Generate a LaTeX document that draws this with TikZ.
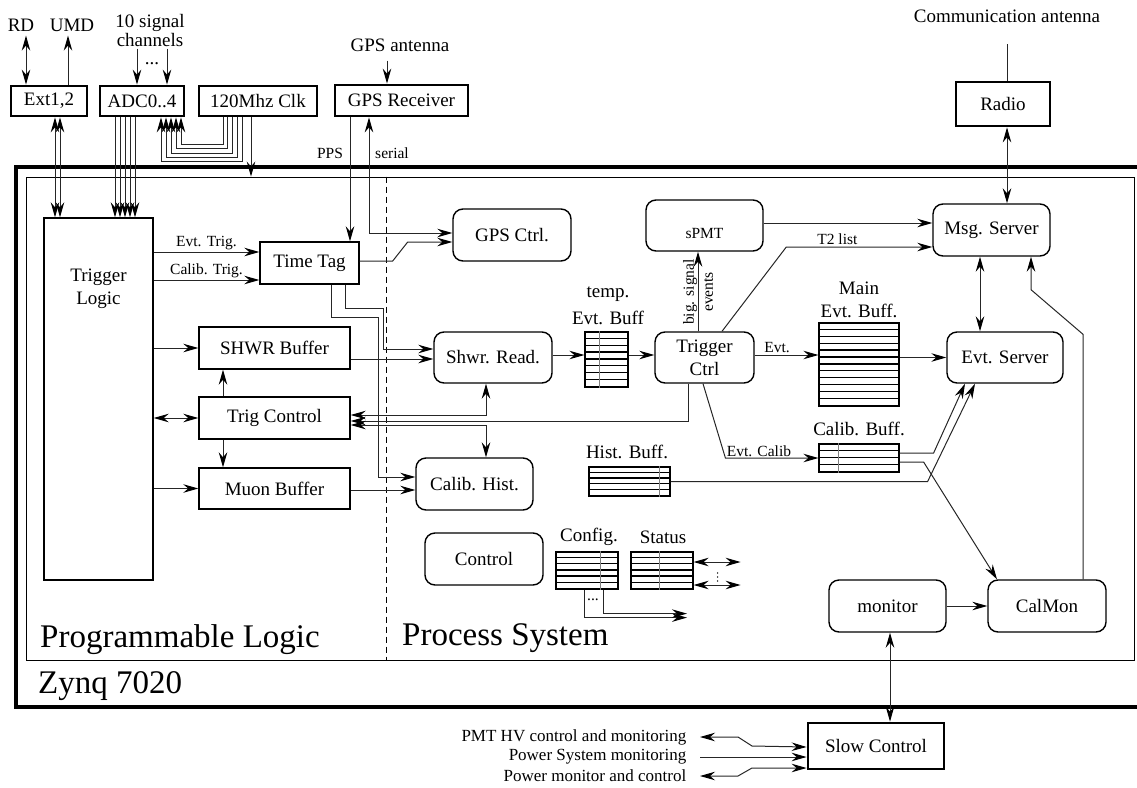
\documentclass[tikz,border=0pt]{standalone}
\usepackage{fontspec}
\setmainfont{Liberation Serif}
\usepackage{amsmath}
\usetikzlibrary{arrows.meta}
\newcommand{\boxsize}{\fontsize{19}{23}\selectfont}
\newcommand{\lblsize}{\fontsize{15.5}{18}\selectfont}
\newcommand{\titlesize}{\fontsize{33}{38}\selectfont}
% stacked buffer: name, x, y, width, height, rows, divider
\newcommand{\stackbuf}[7]{%
	\node[bufbox, minimum width=#4pt, minimum height=#5pt] (#1) at (#2,#3) {};
	\foreach \k in {1,...,#6}
		\draw[line width=1.2pt] ([yshift={-\k*#5/#6*1pt}]#1.north west) -- ([yshift={-\k*#5/#6*1pt}]#1.north east);
	\ifdim#7pt>0pt
		\draw[black!50, line width=0.6pt] ([xshift={#7*#4*1pt}]#1.north west) -- ([xshift={#7*#4*1pt}]#1.south west);
	\fi
}

\begin{document}
\begin{tikzpicture}[x=1pt, y=-1pt,
		thickbox/.style={draw, line width=2.8pt, inner sep=0pt, font=\boxsize},
		plainbox/.style={draw, line width=1.4pt, inner sep=0pt, font=\boxsize},
		roundbox/.style={plainbox, rounded corners=10pt},
		bufbox/.style={draw, line width=1.2pt, inner sep=0pt},
		txt/.style={font=\boxsize, inner sep=0pt},
		lbl/.style={font=\lblsize, inner sep=1.5pt},
		conn/.style={line width=1pt, draw=black!85},
		tip/.tip={Stealth[length=15pt, width=8.5pt, inset=5pt, color=black]},
		arr/.style={conn, -tip},
		dbl/.style={conn, tip-tip}]
	\useasboundingbox (0,0) rectangle (1137,787);
	% frames
	\node[draw, line width=3.2pt, minimum width=1160pt, minimum height=540pt, inner sep=0pt] (zynq) at (596,437) {};
	\node[draw, line width=0.9pt, minimum width=1108pt, minimum height=483pt, inner sep=0pt] (inner) at (580,418.5) {};
	\draw[line width=0.9pt, dash pattern=on 6pt off 4pt] ([xshift=361pt]inner.north west) -- ([xshift=361pt]inner.south west);
	\node[font=\titlesize, inner sep=0pt, anchor=base west] (pltitle) at (40,647) {Programmable Logic};
	\node[font=\titlesize, inner sep=0pt, anchor=base west] (pstitle) at (402,645) {Process System};
	\node[font=\titlesize, inner sep=0pt, anchor=base west] (zynqtitle) at (38,693) {Zynq 7020};

	% outside world
	\node[thickbox, minimum width=76pt, minimum height=30pt] (ext) at (49,101) {Ext1,2};
	\node[thickbox, minimum width=84pt, minimum height=30pt] (adc) at (142,101) {ADC0..4};
	\node[thickbox, minimum width=118pt, minimum height=30pt] (clk) at (258,101) {120Mhz Clk};
	\node[thickbox, minimum width=133pt, minimum height=31pt] (gpsrx) at (401.5,100.5) {GPS Receiver};
	\node[thickbox, minimum width=94pt, minimum height=44pt] (radio) at (1003,104) {Radio};
	\node[thickbox, minimum width=136pt, minimum height=46pt] (slow) at (876,746) {Slow Control};
	\node[txt] (rd) at (21,25) {RD};
	\node[txt] (umd) at (72,25) {UMD};
	\node[txt, align=center, font=\fontsize{19}{19}\selectfont] (chan) at (150,31) {10 signal\\channels};
	\node[txt] (chandots) at (152,64) {...};
	\node[txt] (gpsant) at (400,45) {GPS antenna};
	\node[txt] (comant) at (1007,16) {Communication antenna};
	\node[lbl, anchor=east, font=\fontsize{17}{18}\selectfont] (pmt) at (688,737) {PMT HV control and monitoring};
	\node[lbl, anchor=east, font=\fontsize{17}{18}\selectfont] (psys) at (688,757) {Power System monitoring};
	\node[lbl, anchor=east, font=\fontsize{17}{18}\selectfont] (pmon) at (688,776) {Power monitor and control};

	% programmable logic
	\node[plainbox, minimum width=109pt, minimum height=362pt] (triglogic) at (98.5,399) {};
	\node[txt, align=center] (trigloglbl) at (98.5,289) {Trigger\\Logic};
	\node[plainbox, minimum width=99pt, minimum height=42pt] (timetag) at (309.5,263) {Time Tag};
	\node[plainbox, minimum width=151pt, minimum height=42pt] (shwrbuf) at (274.5,348) {SHWR Buffer};
	\node[plainbox, minimum width=151pt, minimum height=42pt] (trigctl) at (274.5,418) {Trig Control};
	\node[plainbox, minimum width=151pt, minimum height=41pt] (muonbuf) at (274.5,488.5) {Muon Buffer};

	% process system
	\node[roundbox, minimum width=118pt, minimum height=52pt] (gpsctl) at (512,235) {GPS Ctrl.};
	\node[roundbox, minimum width=118pt, minimum height=51pt] (shwrread) at (493,357.5) {Shwr. Read.};
	\node[roundbox, minimum width=117pt, minimum height=52pt] (calhist) at (474.5,484) {Calib. Hist.};
	\node[roundbox, minimum width=99pt, minimum height=51pt, align=center] (trigctrl) at (704.5,357.5) {Trigger\\Ctrl};
	\node[roundbox, minimum width=117pt, minimum height=51pt] (spmt) at (704.5,225.5) {};
	\node[lbl] (spmtlbl) at (704.5,233) {sPMT};
	\node[roundbox, minimum width=117pt, minimum height=52pt] (msgsrv) at (991.5,230) {Msg. Server};
	\node[roundbox, minimum width=116pt, minimum height=51pt] (evtsrv) at (1005,357.5) {Evt. Server};
	\node[roundbox, minimum width=118pt, minimum height=52pt] (control) at (484,559) {Control};
	\node[roundbox, minimum width=117pt, minimum height=52pt] (monitor) at (887.5,606) {monitor};
	\node[roundbox, minimum width=118pt, minimum height=52pt] (calmon) at (1047,606) {CalMon};

	% buffers
	\stackbuf{tempbuf}{606.5}{359.5}{43}{55}{8}{0.35}
	\stackbuf{mainbuf}{859}{364.5}{80}{83}{12}{0}
	\stackbuf{calbuf}{859}{458}{80}{28}{4}{0.25}
	\stackbuf{histbuf}{629.5}{481.5}{81}{29}{5}{0.88}
	\stackbuf{cfgbuf}{587}{570.5}{62}{37}{6}{0.73}
	\stackbuf{statbuf}{662}{570.5}{62}{37}{6}{0.47}
	\node[txt, align=center] (templbl) at (608,306) {temp.\\[4pt]Evt. Buff};
	\node[txt, align=center] (mainlbl) at (859,300) {Main\\Evt. Buff.};
	\node[txt] (callbl) at (859,429) {Calib. Buff.};
	\node[txt] (histlbl) at (627,452) {Hist. Buff.};
	\node[txt] (cfglbl) at (589,537) {Config.};
	\node[txt] (statlbl) at (663,537) {Status};

	% external connections
	\draw[dbl] ([xshift=-23pt]ext.north) -- ([xshift=-23pt, yshift=49pt]ext.north);
	\draw[arr] ([xshift=19pt]ext.north) -- ([xshift=19pt, yshift=49pt]ext.north);
	\foreach \d in {-5,25}
		\draw[arr] ([xshift=\d pt, yshift=36pt]adc.north) -- ([xshift=\d pt]adc.north);
	\foreach \d in {6,11}
		\draw[dbl] ([xshift=\d pt]ext.south) -- ([xshift=\d pt]ext.south |- triglogic.north);
	\foreach \d in {-27,-22,-17,-12,-7}
		\draw[arr] ([xshift=\d pt]adc.south) -- ([xshift=\d pt]adc.south |- triglogic.north);
	\foreach \i in {0,...,4}
		\draw[arr] ([xshift={-35pt+4.8pt*\i}]clk.south) -- ++(0,{27+4.3*\i}) -| ([xshift={39pt-5pt*\i}]adc.south);
	\draw[arr] ([xshift=-7pt]clk.south) -- ([xshift=-7pt]clk.south |- inner.north);
	\draw[arr] ([xshift=-14.5pt, yshift=23pt]gpsrx.north) -- ([xshift=-14.5pt]gpsrx.north);
	\draw[arr] ([xshift=-51.5pt]gpsrx.south) -- ([xshift=-51.5pt]gpsrx.south |- timetag.north);
	\node[lbl] (ppslbl) at (330,153) {PPS};
	\draw[dbl] ([xshift=-32.5pt]gpsrx.south) |- ([yshift=2pt]gpsctl.west);
	\node[lbl] (seriallbl) at (392,153) {serial};
	\draw[conn] ([xshift=4pt]radio.north) -- ([xshift=4pt, yshift=37pt]radio.north);
	\draw[dbl] ([xshift=4pt]radio.south) -- ([xshift=4pt]radio.south |- msgsrv.north);

	% trigger logic outputs
	\draw[arr] ([yshift=11pt]triglogic.east |- timetag.west) -- ([yshift=11pt]timetag.west) node[lbl, midway, above] {Evt. Trig.};
	\draw[arr] ([yshift=-17pt]triglogic.east |- timetag.west) -- ([yshift=-17pt]timetag.west) node[lbl, midway, above] {Calib. Trig.};
	\draw[arr] (triglogic.east |- shwrbuf.west) -- (shwrbuf.west);
	\draw[dbl] (triglogic.east |- trigctl.west) -- (trigctl.west);
	\draw[arr] (triglogic.east |- muonbuf.west) -- (muonbuf.west);
	\draw[arr] ([xshift=-51.5pt]trigctl.north) -- ([xshift=-51.5pt]shwrbuf.south);
	\draw[arr] ([xshift=-51.5pt]trigctl.south) -- ([xshift=-51.5pt]muonbuf.north);

	% time tag
	\draw[arr] ([yshift=2pt]timetag.east) -- ++(33,0) -- ++(15,-19) -- ([yshift=-7pt]gpsctl.west);
	\draw[arr] ([xshift=35.5pt]timetag.south) -- ++(0,24) -- ++(38,0) |- ([yshift=8.5pt]shwrread.west);
	\draw[arr] ([xshift=21.5pt]timetag.south) -- ++(0,33) -- ++(47,0) |- ([yshift=7pt]calhist.west);
	\draw[arr] ([yshift=-11pt]shwrbuf.east) -- ([yshift=-11pt]shwrbuf.east -| shwrread.west);
	\draw[arr] ([yshift=-1.5pt]muonbuf.east) -- ([yshift=-1.5pt]muonbuf.east -| calhist.west);
	\draw[dbl] ([yshift=3pt]trigctl.east) -| ([xshift=-7pt]shwrread.south);
	\draw[arr] ([xshift=-16.5pt]trigctrl.south) |- ([yshift=-3pt]trigctl.east);
	\draw[dbl] ([yshift=-7pt]trigctl.east) -| ([xshift=11.5pt]calhist.north);

	% event path
	\draw[arr] ([yshift=4.5pt]tempbuf.west -| shwrread.east) -- ([yshift=4.5pt]tempbuf.west);
	\draw[arr] ([yshift=4.5pt]tempbuf.east) -- ([yshift=4.5pt]tempbuf.east -| trigctrl.west);
	\draw[arr] ([yshift=2.5pt]trigctrl.east) -- ([yshift=2.5pt]trigctrl.east -| mainbuf.west) node[lbl, pos=0.35, above] {Evt.};
	\draw[arr] ([xshift=-1.5pt]trigctrl.south) -- ([xshift=-93pt]calbuf.west) node[lbl, anchor=south west, inner sep=1pt] {Evt. Calib} -- (calbuf.west);
	\draw[arr] ([xshift=-6.5pt]trigctrl.north) -- ([xshift=-6.5pt]trigctrl.north |- spmt.south);
	\node[lbl, rotate=90, align=center, font=\fontsize{15.5}{19}\selectfont] (biglbl) at (698,292) {big. signal\\events};
	\draw[arr] ([xshift=17.5pt]trigctrl.north) -- ([yshift=-17pt, xshift=-146pt]msgsrv.west) -- ([yshift=-17pt]msgsrv.west) node[lbl, pos=0.35, above] {T2 list};
	\draw[arr] ([yshift=7pt]msgsrv.west -| spmt.east) -- ([yshift=7pt]msgsrv.west);
	\draw[arr] (mainbuf.east |- evtsrv.west) -- (evtsrv.west);
	\draw[arr] ([yshift=5pt]calbuf.east) -- ++(34,0) -- ([xshift=-40pt]evtsrv.south);
	\draw[arr] (histbuf.east) -- ++(257,0) -- ([xshift=-30pt]evtsrv.south);
	\draw[arr] ([yshift=-4pt]calbuf.east) -- ++(24,0) -- ([xshift=-50pt]calmon.north);
	\draw[arr] ([xshift=36pt]calmon.north) -- ++(0,-245) -- ([xshift=39.5pt, yshift=-33pt]msgsrv.south) -- ([xshift=39.5pt]msgsrv.south);
	\draw[dbl] ([xshift=-11.5pt]msgsrv.south) -- ([xshift=-11.5pt]msgsrv.south |- evtsrv.north);

	% control and status
	\foreach \d in {8.5,-14.5}
		\draw[dbl] ([yshift=\d pt]statbuf.east) -- ++(47,0);
	\foreach \d in {0,4,8}
		\fill ([xshift=24pt, yshift={-2.5pt-\d pt}]statbuf.east) circle (0.8pt);
	\draw[arr] ([xshift=-3pt]cfgbuf.south) |- ++(103,28);
	\draw[arr] ([xshift=16pt]cfgbuf.south) |- ++(84,24);
	\node[lbl] (cfgdots) at (593,600) {...};

	% monitoring
	\draw[arr] (monitor.east) -- (calmon.west);
	\draw[dbl] ([xshift=2.5pt]monitor.south) -- ([xshift=2.5pt]monitor.south |- slow.north);
	\draw[dbl] ([xshift=12pt]pmt.east) -- ++(38,0) -- ++(14,9) -- ([yshift=-1pt]slow.west);
	\draw[arr] ([xshift=12pt]psys.east) -- (slow.west |- psys.east);
	\draw[dbl] ([xshift=12pt]pmon.east) -- ++(38,0) -- ++(14,-8) -- ([yshift=-22pt]slow.west);
\end{tikzpicture}
\end{document}
